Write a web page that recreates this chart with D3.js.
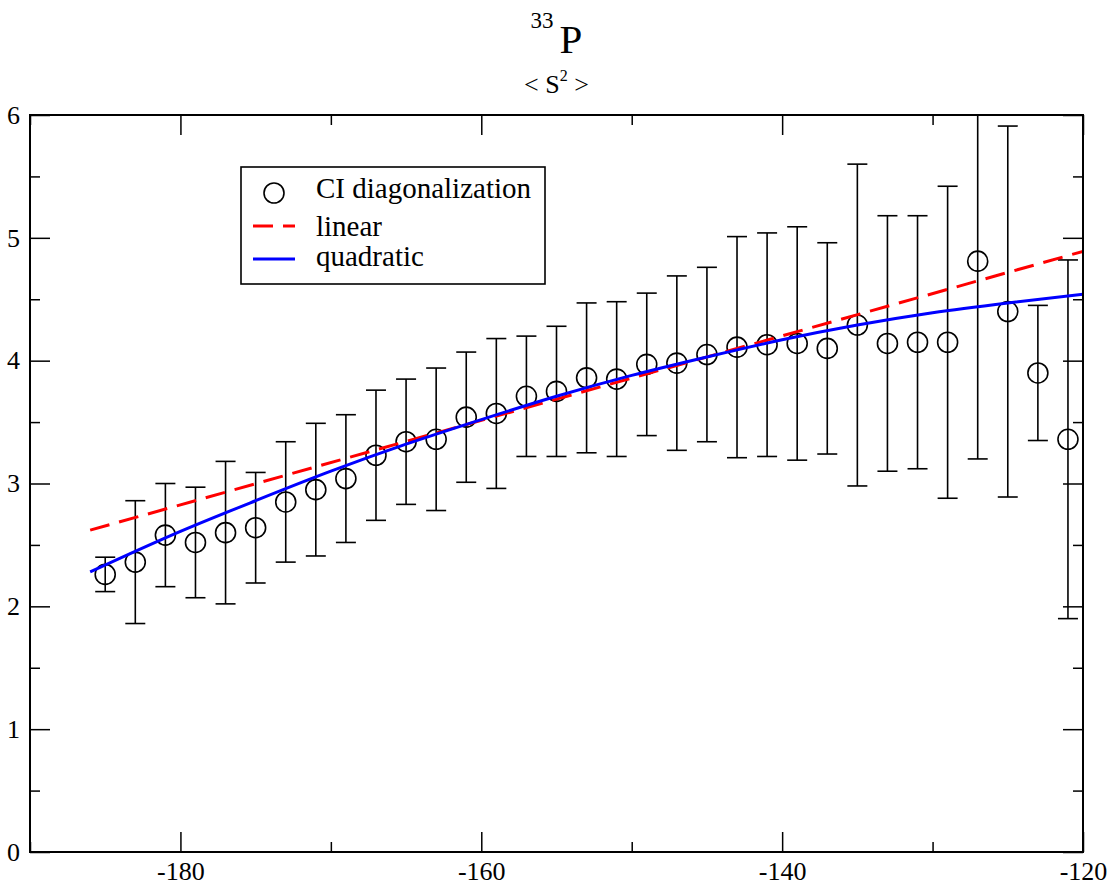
<!DOCTYPE html>
<html>
<head>
<meta charset="utf-8">
<script src="https://d3js.org/d3.v7.min.js"></script>
<style>
  html, body { margin: 0; padding: 0; background: #fff; }
  svg { display: block; }
  text { font-family: "Liberation Serif", "Times New Roman", serif; fill: #000; }
</style>
</head>
<body>
<svg id="chart" width="1111" height="886"></svg>
<script>
// CI diagonalization results: energy (x) vs <S^2>, with error bars
const energies = [-185, -183, -181, -179, -177, -175, -173, -171, -169, -167, -165,
                  -163, -161, -159, -157, -155, -153, -151, -149, -147, -145, -143,
                  -141, -139, -137, -135, -133, -131, -129, -127, -125, -123, -121];
const s2Values = [2.26, 2.36, 2.58, 2.52, 2.60, 2.64, 2.85, 2.95, 3.04, 3.23, 3.34,
                  3.36, 3.54, 3.57, 3.71, 3.75, 3.86, 3.85, 3.97, 3.98, 4.05, 4.11,
                  4.13, 4.14, 4.10, 4.29, 4.14, 4.15, 4.15, 4.81, 4.40, 3.90, 3.36];
const s2Errors = [0.14, 0.50, 0.42, 0.45, 0.58, 0.45, 0.49, 0.54, 0.52, 0.53, 0.51,
                  0.58, 0.53, 0.61, 0.49, 0.53, 0.61, 0.63, 0.58, 0.71, 0.71, 0.90,
                  0.91, 0.95, 0.86, 1.31, 1.04, 1.03, 1.27, 1.61, 1.51, 0.55, 1.46];

// Fitted curves
const linearX = [-186, -120];
const linearY = [2.62, 4.89];
const quadX = [-186, -180, -175, -170, -165, -160, -155, -150, -145, -140, -135, -130, -125, -120];
const quadY = [2.28, 2.61, 2.86, 3.10, 3.32, 3.52, 3.71, 3.88, 4.03, 4.17, 4.29, 4.39, 4.47, 4.54];

// Axis ticks
const xMajorTicks = [-180, -160, -140, -120];
const xMinorTicks = [-190, -170, -150, -130];
const yMajorTicks = [0, 1, 2, 3, 4, 5, 6];
const yMinorTicks = [0.5, 1.5, 2.5, 3.5, 4.5, 5.5];

const legendLabels = ["CI diagonalization", "linear", "quadratic"];

const svg = d3.select("#chart");
const plotLeft = 30, plotRight = 1083, plotTop = 115, plotBottom = 852;

const x = d3.scaleLinear().domain([-190, -120]).range([plotLeft, plotRight]);
const y = d3.scaleLinear().domain([0, 6]).range([plotBottom, plotTop]);

// Plain hyphen-minus labels
const plainFormat = d => String(d);

// Title
const title = svg.append("text")
  .attr("x", (plotLeft + plotRight) / 2).attr("y", 53)
  .attr("text-anchor", "middle");
title.append("tspan").attr("font-size", 23).attr("dy", -25).text("33");
title.append("tspan").attr("font-size", 41).attr("dx", 6).attr("dy", 25).text("P");

const sub = svg.append("text")
  .attr("x", (plotLeft + plotRight) / 2).attr("y", 93)
  .attr("text-anchor", "middle").attr("font-size", 26);
sub.append("tspan").text("< S");
sub.append("tspan").attr("font-size", 16).attr("dy", -12).text("2");
sub.append("tspan").attr("dy", 12).text(" >");

// Clip region for plot content
svg.append("defs").append("clipPath").attr("id", "plotClip")
  .append("rect").attr("x", plotLeft).attr("y", plotTop)
  .attr("width", plotRight - plotLeft).attr("height", plotBottom - plotTop);

// Axes (ticks pointing inward on all four sides)
function styleAxis(g) {
  g.select(".domain").remove();
  g.selectAll(".tick line").attr("stroke", "#000").attr("stroke-width", 1.5);
  g.selectAll(".tick text").attr("font-size", 26)
    .attr("font-family", "Liberation Serif, Times New Roman, serif");
}

svg.append("g").attr("transform", `translate(0,${plotBottom})`)
  .call(d3.axisBottom(x).tickValues(xMajorTicks).tickSize(-20).tickPadding(10)
    .tickFormat(plainFormat))
  .call(styleAxis);
svg.append("g").attr("transform", `translate(0,${plotBottom})`)
  .call(d3.axisBottom(x).tickValues(xMinorTicks).tickSize(-10).tickFormat(""))
  .call(styleAxis);
svg.append("g").attr("transform", `translate(0,${plotTop})`)
  .call(d3.axisTop(x).tickValues(xMajorTicks).tickSize(-20).tickFormat(""))
  .call(styleAxis);
svg.append("g").attr("transform", `translate(0,${plotTop})`)
  .call(d3.axisTop(x).tickValues(xMinorTicks).tickSize(-10).tickFormat(""))
  .call(styleAxis);

svg.append("g").attr("transform", `translate(${plotLeft},0)`)
  .call(d3.axisLeft(y).tickValues(yMajorTicks).tickSize(-20).tickPadding(10)
    .tickFormat(plainFormat))
  .call(styleAxis);
svg.append("g").attr("transform", `translate(${plotLeft},0)`)
  .call(d3.axisLeft(y).tickValues(yMinorTicks).tickSize(-10).tickFormat(""))
  .call(styleAxis);
svg.append("g").attr("transform", `translate(${plotRight},0)`)
  .call(d3.axisRight(y).tickValues(yMajorTicks).tickSize(-20).tickFormat(""))
  .call(styleAxis);
svg.append("g").attr("transform", `translate(${plotRight},0)`)
  .call(d3.axisRight(y).tickValues(yMinorTicks).tickSize(-10).tickFormat(""))
  .call(styleAxis);

// Data
const points = energies.map((e, i) => ({ x: e, y: s2Values[i], err: s2Errors[i] }));
const plot = svg.append("g").attr("clip-path", "url(#plotClip)");

// Error bars
const capHalf = 10;
const bars = plot.append("g").attr("stroke", "#000").attr("stroke-width", 1.6).attr("fill", "none");
points.forEach(p => {
  const cx = x(p.x), yt = y(p.y + p.err), yb = y(p.y - p.err);
  bars.append("line").attr("x1", cx).attr("x2", cx).attr("y1", yt).attr("y2", yb);
  bars.append("line").attr("x1", cx - capHalf).attr("x2", cx + capHalf).attr("y1", yt).attr("y2", yt);
  bars.append("line").attr("x1", cx - capHalf).attr("x2", cx + capHalf).attr("y1", yb).attr("y2", yb);
});

// Open circle markers
plot.append("g").selectAll("circle").data(points).join("circle")
  .attr("cx", d => x(d.x)).attr("cy", d => y(d.y)).attr("r", 10)
  .attr("fill", "none").attr("stroke", "#000").attr("stroke-width", 1.6);

// Fit lines
const line = d3.line().x(d => x(d[0])).y(d => y(d[1]));
plot.append("path")
  .datum(linearX.map((v, i) => [v, linearY[i]]))
  .attr("d", line).attr("fill", "none")
  .attr("stroke", "#ff0000").attr("stroke-width", 3).attr("stroke-dasharray", "20,10");
plot.append("path")
  .datum(quadX.map((v, i) => [v, quadY[i]]))
  .attr("d", line.curve(d3.curveMonotoneX)).attr("fill", "none")
  .attr("stroke", "#0000ff").attr("stroke-width", 3);

// Frame
svg.append("rect").attr("x", plotLeft).attr("y", plotTop)
  .attr("width", plotRight - plotLeft).attr("height", plotBottom - plotTop)
  .attr("fill", "none").attr("stroke", "#000").attr("stroke-width", 2);

// Legend
const lg = svg.append("g");
lg.append("rect").attr("x", 241).attr("y", 167).attr("width", 304).attr("height", 117)
  .attr("fill", "#fff").attr("stroke", "#000").attr("stroke-width", 1.6);
lg.append("circle").attr("cx", 274).attr("cy", 193).attr("r", 10)
  .attr("fill", "none").attr("stroke", "#000").attr("stroke-width", 1.6);
lg.append("line").attr("x1", 253).attr("x2", 295).attr("y1", 226).attr("y2", 226)
  .attr("stroke", "#ff0000").attr("stroke-width", 3).attr("stroke-dasharray", "20,10");
lg.append("line").attr("x1", 253).attr("x2", 295).attr("y1", 259).attr("y2", 259)
  .attr("stroke", "#0000ff").attr("stroke-width", 3);
const legendBaselines = [198, 236, 266];
legendLabels.forEach((t, i) => {
  lg.append("text").attr("x", 316).attr("y", legendBaselines[i])
    .attr("font-size", 29).text(t);
});
</script>
</body>
</html>
